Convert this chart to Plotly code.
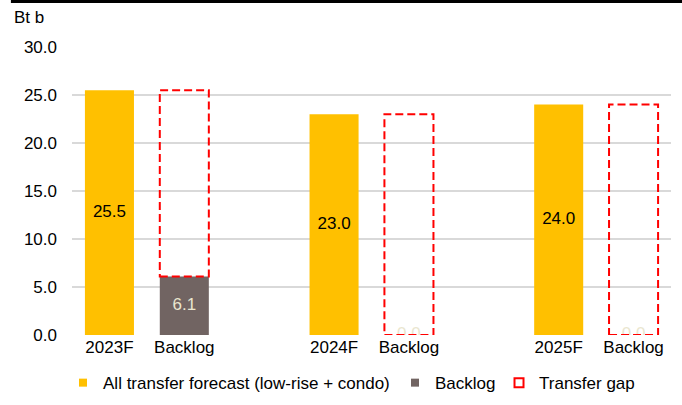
import plotly.graph_objects as go

# ---- data ----
tick_labels = ["2023F", "Backlog", "", "2024F", "Backlog", "", "2025F", "Backlog"]
years = ["2023F", "2024F", "2025F"]
forecast = [25.5, 23.0, 24.0]
backlog = [6.1, 0.0, 0.0]
gap = [round(f - b, 1) for f, b in zip(forecast, backlog)]

forecast_pos = [0, 3, 6]
backlog_pos = [1, 4, 7]

YELLOW = "#FFC000"
BROWN = "#716462"
FONT = "Liberation Sans, Arial, sans-serif"
BAR_W = 0.655

fig = go.Figure()

fig.add_trace(go.Bar(x=forecast_pos, y=forecast, width=BAR_W,
                     marker=dict(color=YELLOW, line=dict(width=0)),
                     showlegend=False, hoverinfo="skip"))
fig.add_trace(go.Bar(x=backlog_pos, y=backlog, width=BAR_W,
                     marker=dict(color=BROWN, line=dict(width=0)),
                     showlegend=False, hoverinfo="skip"))
# transfer gap (stacked on top of backlog), fill invisible; outline drawn as dashed shapes
fig.add_trace(go.Bar(x=backlog_pos, y=gap, base=backlog, width=BAR_W,
                     marker=dict(color="rgba(255,255,255,0)", line=dict(width=0)),
                     showlegend=False, hoverinfo="skip"))

# data labels
fig.add_trace(go.Scatter(x=forecast_pos, y=[v / 2 for v in forecast], mode="text",
                         text=[f"{v:.1f}" for v in forecast],
                         textfont=dict(family=FONT, size=17, color="#000000"),
                         showlegend=False, hoverinfo="skip"))
fig.add_trace(go.Scatter(x=backlog_pos, y=[v / 2 for v in backlog], mode="text",
                         text=[f"{v:.1f}" for v in backlog],
                         textfont=dict(family=FONT, size=17, color="#EAE6CF"),
                         showlegend=False, hoverinfo="skip"))

# legend entries
fig.add_trace(go.Scatter(x=[None], y=[None], mode="markers", name="All transfer forecast (low-rise + condo)",
                         marker=dict(symbol="square", size=8, color=YELLOW), legendwidth=287))
fig.add_trace(go.Scatter(x=[None], y=[None], mode="markers", name="Backlog",
                         marker=dict(symbol="square", size=8, color=BROWN), legendwidth=59))
fig.add_trace(go.Scatter(x=[None], y=[None], mode="markers", name="Transfer gap",
                         marker=dict(symbol="square-open", size=9, color="#FF0000", line=dict(width=2))))

shapes = []
for p, b, g in zip(backlog_pos, backlog, gap):
    shapes.append(dict(type="rect", xref="x", yref="y",
                       x0=p - BAR_W / 2, x1=p + BAR_W / 2, y0=b, y1=b + g,
                       line=dict(color="#FF0000", width=2, dash="8px,4px"),
                       fillcolor="rgba(0,0,0,0)", layer="above"))
# top black rule
shapes.append(dict(type="line", xref="paper", yref="paper",
                   x0=-0.102, x1=1.02, y0=1.158, y1=1.158,
                   line=dict(color="#000000", width=3)))

fig.update_layout(
    width=682, height=405,
    margin=dict(l=72, r=11, t=47, b=70, autoexpand=False),
    paper_bgcolor="white", plot_bgcolor="white",
    barmode="overlay",
    font=dict(family=FONT, size=17, color="#000000"),
    shapes=shapes,
    showlegend=True,
    legend=dict(orientation="h", x=-0.015, xanchor="left", y=-0.167, yanchor="middle",
                font=dict(family=FONT, size=17, color="#000000"),
                bgcolor="rgba(0,0,0,0)", itemclick=False),
    annotations=[dict(text="Bt b", xref="paper", yref="paper", x=-0.1, y=1.104,
                      xanchor="left", yanchor="middle", showarrow=False,
                      font=dict(family=FONT, size=17, color="#000000"))],
)
fig.update_xaxes(range=[-0.5, 7.5], tickmode="array", tickvals=list(range(8)),
                 ticktext=tick_labels, showgrid=False, zeroline=False, showline=False,
                 ticks="", tickfont=dict(family=FONT, size=17, color="#000000"))
fig.update_yaxes(range=[0, 30], dtick=5, tickformat=".1f", showgrid=True,
                 gridcolor="#D9D9D9", gridwidth=2, zeroline=False, showline=False,
                 ticks="", ticklabelstandoff=14,
                 tickfont=dict(family=FONT, size=17, color="#000000"))

fig.write_html("out.html")
